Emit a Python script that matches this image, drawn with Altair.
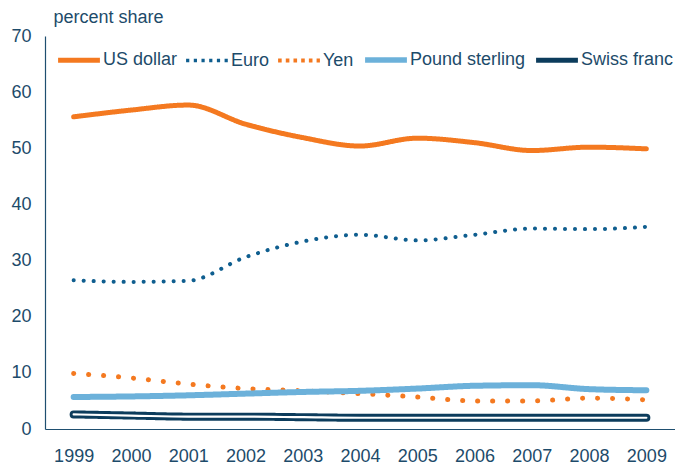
import altair as alt
import pandas as pd

years = list(range(1999, 2010))
us_dollar = [55.6, 56.8, 57.7, 54.3, 51.9, 50.4, 51.8, 51.0, 49.6, 50.2, 49.9]
euro = [26.5, 26.2, 26.4, 30.6, 33.4, 34.6, 33.6, 34.6, 35.7, 35.6, 36.0]
yen = [9.9, 9.1, 8.0, 7.2, 6.8, 6.3, 5.7, 5.0, 5.0, 5.5, 5.2]
pound = [5.7, 5.8, 6.0, 6.3, 6.6, 6.8, 7.2, 7.7, 7.8, 7.1, 6.9]
swiss = [2.6, 2.4, 2.2, 2.2, 2.1, 2.0, 2.0, 2.0, 2.0, 2.0, 2.0]

currencies = ["US dollar", "Euro", "Yen", "Pound sterling", "Swiss franc"]
series = [us_dollar, euro, yen, pound, swiss]
colors = ["#F47920", "#0F5E8F", "#F47920", "#6CB1DA", "#0C3C5C"]
dashes = [[1, 0], [0.1, 9.9], [0.1, 14.9], [1, 0], [1, 0]]
widths = [5, 4, 5, 6, 8]
legend_dashes = [[1, 0], [3.2, 4.5], [3.6, 4.1], [1, 0], [1, 0]]
legend_widths = [5, 3.6, 4, 5.5, 5]

TEXT = "#1D4B6A"
AXIS = "#1F4F70"
FONT = "Liberation Sans"
FS = 18

rows = []
for name, vals in zip(currencies, series):
    for y, v in zip(years, vals):
        rows.append({"year": y, "currency": name, "value": v})
df = pd.DataFrame(rows)

leg = alt.Legend(
    title=None, orient="none", legendX=10, legendY=0, direction="horizontal",
    columns=5, symbolType="stroke", symbolSize=1750, labelFont=FONT,
    labelFontSize=FS, labelColor=TEXT, labelOffset=0, columnPadding=0,
)

x = alt.X("year:Q", scale=alt.Scale(domain=[1998.5, 2009.5], nice=False, zero=False),
          axis=alt.Axis(values=years, format="d", title=None, ticks=False, tickSize=0,
                        grid=False, labelPadding=18, domainColor=AXIS, domainWidth=1.2))
y = alt.Y("value:Q", scale=alt.Scale(domain=[0, 70], nice=False),
          axis=alt.Axis(values=list(range(0, 71, 10)), title="percent share", titleAngle=0,
                        titleAlign="left", titleBaseline="alphabetic", titleX=8, titleY=-14,
                        ticks=False, tickSize=0, grid=False, labelPadding=14,
                        domainColor=AXIS, domainWidth=1.2))

lines = alt.Chart(df).mark_line(interpolate="monotone", strokeCap="round", strokeJoin="round").encode(
    x=x, y=y,
    color=alt.Color("currency:N", scale=alt.Scale(domain=currencies, range=colors), legend=None),
    strokeDash=alt.StrokeDash("currency:N", scale=alt.Scale(domain=currencies, range=dashes), legend=None),
    strokeWidth=alt.StrokeWidth("currency:N", scale=alt.Scale(type="ordinal", domain=currencies, range=widths),
                                legend=None),
)

core = alt.Chart(df).transform_filter(alt.datum.currency == "Swiss franc").mark_line(
    interpolate="monotone", strokeCap="round").encode(
    x=x, y=y,
    stroke=alt.value("white"),
    strokeWidth=alt.value(2.2),
)

# single-vertex lines: draw nothing, only carry the legend
legend_layer = alt.Chart(df).transform_filter(alt.datum.year == 1999).mark_line().encode(
    x=x, y=y,
    color=alt.Color("currency:N", scale=alt.Scale(domain=currencies, range=colors), legend=leg),
    strokeDash=alt.StrokeDash("currency:N", scale=alt.Scale(domain=currencies, range=legend_dashes),
                              legend=leg),
    strokeWidth=alt.StrokeWidth("currency:N",
                                scale=alt.Scale(type="ordinal", domain=currencies, range=legend_widths),
                                legend=leg),
)

chart = alt.layer(lines, core, legend_layer).resolve_scale(
    color="independent", strokeDash="independent", strokeWidth="independent"
).properties(
    width=630, height=393, padding={"left": 2, "top": 0, "right": 0, "bottom": 0}
).configure_view(stroke=None).configure_axis(
    labelFont=FONT, labelFontSize=FS, labelColor=TEXT,
    titleFont=FONT, titleFontSize=FS, titleColor=TEXT, titleFontWeight="normal",
)

chart.save("out.html", embed_options={"renderer": "svg", "actions": False})
